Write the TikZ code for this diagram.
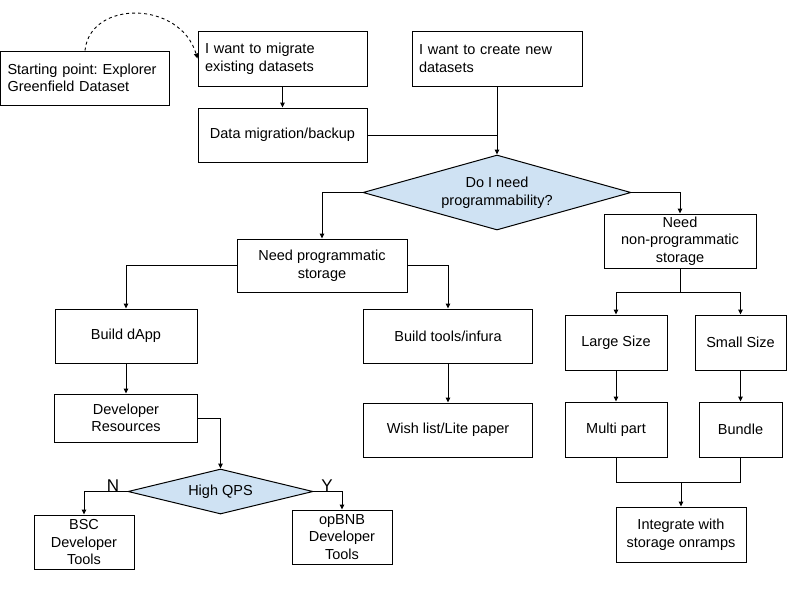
\documentclass[tikz,border=0pt]{standalone}
\usepackage{fontspec}
\setmainfont{Liberation Sans}
\usetikzlibrary{shapes.geometric,arrows.meta}
\definecolor{dblue}{HTML}{CFE2F3}
\frenchspacing
\begin{document}
\begin{tikzpicture}[x=1pt,y=-1pt,
  every node/.style={font=\fontsize{14.5}{17.5}\selectfont},
  box/.style={draw,line width=1pt,rectangle,align=center,inner sep=2pt},
  lbox/.style={draw,line width=1pt,rectangle,align=left,inner ysep=2pt,inner xsep=7pt},
  dia/.style={draw,line width=1pt,diamond,fill=dblue,inner sep=0pt,align=center},
  conn/.style={line width=1pt},
  arr/.style={line width=1pt,-{Triangle[length=5pt,width=4.5pt]}}]
\useasboundingbox (0,0) rectangle (800,600);

\node[lbox,text width=155pt,minimum height=54pt] (start) at (85,78) {Starting point: Explorer\\Greenfield Dataset};
\node[lbox,text width=155pt,minimum height=55pt] (migrate) at (282.5,58.5) {I want to migrate\\existing datasets};
\node[box,minimum width=169pt,minimum height=54pt] (datamig) at (282.5,135) {Data migration/backup};
\node[lbox,text width=156pt,minimum height=55pt,inner xsep=7pt] (create) at (497,58.5) {I want to create new\\datasets};
\node[dia,minimum width=268pt,minimum height=75pt,aspect=3.57] (prog) at (497,192.5) {Do I need\\programmability?};
\node[box,minimum width=170pt,minimum height=53pt] (needprog) at (322,265.5) {Need programmatic\\storage};
\node[box,minimum width=152pt,minimum height=54pt] (nonprog) at (680,241) {Need\\non-programmatic\\storage};
\node[box,minimum width=142pt,minimum height=54pt] (dapp) at (126,336) {Build dApp};
\node[box,minimum width=169pt,minimum height=54pt] (tools) at (448,336) {Build tools/infura};
\node[box,minimum width=143pt,minimum height=48pt] (devres) at (126,418) {Developer\\Resources};
\node[box,minimum width=169pt,minimum height=54pt] (wish) at (448,430) {Wish list/Lite paper};
\node[dia,minimum width=185pt,minimum height=45pt,aspect=4.1] (qps) at (220.5,491.5) {High QPS};
\node[box,minimum width=100pt,minimum height=54pt] (bsc) at (84,542) {BSC\\Developer\\Tools};
\node[box,minimum width=100pt,minimum height=54pt] (opbnb) at (342,537) {opBNB\\Developer\\Tools};
\node[box,minimum width=102pt,minimum height=55pt] (large) at (616,342.5) {Large Size};
\node[box,minimum width=91pt,minimum height=55pt] (small) at (740.5,342.5) {Small Size};
\node[box,minimum width=102pt,minimum height=55pt] (multi) at (616,429.5) {Multi part};
\node[box,minimum width=83pt,minimum height=55pt] (bundle) at (740.5,429.5) {Bundle};
\node[box,minimum width=130pt,minimum height=55pt] (integ) at (681,534.5) {Integrate with\\storage onramps};

\node[font=\fontsize{17}{17}\selectfont,inner sep=0pt] (nlab) at (113,486) {N};
\node[font=\fontsize{17}{17}\selectfont,inner sep=0pt] (ylab) at (327,486) {Y};

\coordinate (split) at (680,292);
\coordinate (merge) at (681,482);

% connectors
\draw[arr,dashed,line width=0.9pt] (start.north) .. controls (90,0) and (180,0) .. (migrate.west);
\draw[arr] (migrate.south) -- (datamig.north);
\draw[conn] (datamig.east) -- (datamig.east -| create.south);
\draw[arr] (create.south) -- (prog.north);
\draw[arr] (prog.west) -| (needprog.north);
\draw[arr] (prog.east) -| (nonprog.north);
\draw[arr] (needprog.west) -| (dapp.north);
\draw[arr] (needprog.east) -| (tools.north);
\draw[arr] (dapp.south) -- (devres.north);
\draw[arr] (tools.south) -- (wish.north);
\draw[arr] (devres.east) -| (qps.north);
\draw[arr] (qps.west) -| (bsc.north);
\draw[arr] (qps.east) -| (opbnb.north);
\draw[conn] (nonprog.south) -- (split);
\draw[arr] (split) -| (large.north);
\draw[arr] (split) -| (small.north);
\draw[arr] (large.south) -- (multi.north);
\draw[arr] (small.south) -- (bundle.north);
\draw[conn] (multi.south) |- (merge);
\draw[conn] (bundle.south) |- (merge);
\draw[arr] (merge) -- (integ.north);
\end{tikzpicture}
\end{document}
